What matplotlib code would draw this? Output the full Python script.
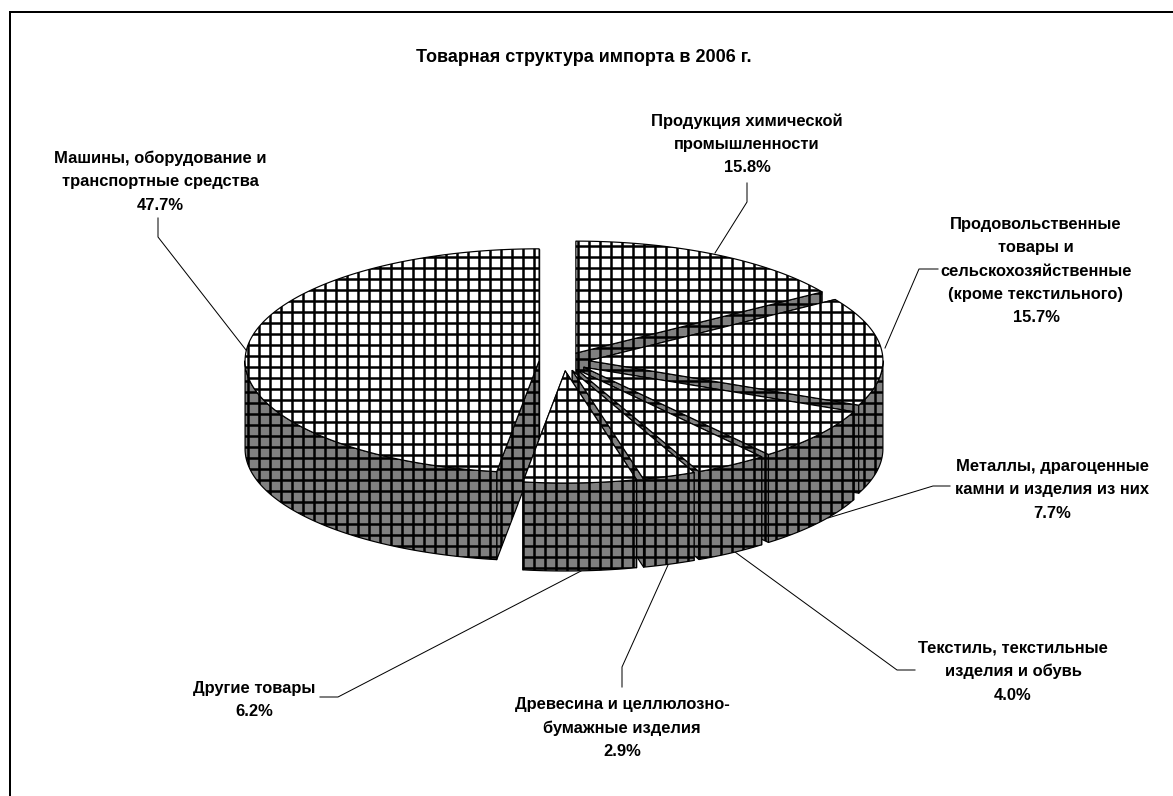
#!/usr/bin/env python3
import numpy as np
import matplotlib
matplotlib.use("Agg")
import matplotlib.pyplot as plt
from matplotlib.patches import Polygon

W, H = 1173, 796
DPI = 66

TITLE = "Товарная структура импорта в 2006 г."

# clockwise from 12 o'clock, starting with the chemical slice
categories = [
    "Продукция химической\nпромышленности",
    "Продовольственные\nтовары и\nсельскохозяйственные\n(кроме текстильного)",
    "Металлы, драгоценные\nкамни и изделия из них",
    "Текстиль, текстильные\nизделия и обувь",
    "Древесина и целлюлозно-\nбумажные изделия",
    "Другие товары",
    "Машины, оборудование и\nтранспортные средства",
]
shares = [15.8, 15.7, 7.7, 4.0, 2.9, 6.2, 47.7]

plt.rcParams.update({
    "font.family": ["Liberation Sans", "DejaVu Sans"],
    "font.weight": "bold",
})


def px(size):
    return size * 72 / DPI


# pie geometry in image pixels
CX, CY = 564.0, 361.5
RX, RY = 294.0, 112.0
DEPTH = 88.0
EXPLODE = 25.0

# pattern grid: period and phase of the bitmap fill
GRID = 11
GRID_LW = 2.5
TOP_PHASE = (6.0, 4.0)
WALL_PHASE = (5.5, 6.5)

# label centre x, y of first line (px), one per category
label_pos = [
    (747, 121),
    (1036, 224),
    (1052, 466),
    (1013, 648),
    (622, 705),
    (254, 688),
    (160, 158),
]
# leader polylines, label end first
leaders = [
    [(747, 183), (747, 202), (715, 253)],
    [(938, 269), (919, 269), (885, 348)],
    [(950, 486), (933, 486), (828, 518)],
    [(915, 670), (897, 670), (735, 552)],
    [(622, 687), (622, 667), (668, 565)],
    [(320, 697), (338, 697), (581, 571)],
    [(158, 218), (158, 237), (246, 350)],
]


def ell(ax0, ay0, t):
    return ax0 + RX * np.sin(t), ay0 - RY * np.cos(t)


def face(ax, pts, color, phase, z):
    patch = Polygon(pts, facecolor=color, edgecolor="none", zorder=z)
    ax.add_patch(patch)
    xs = np.arange(phase[0], W, GRID)
    ys = np.arange(phase[1], H, GRID)
    for lines in (ax.vlines(xs, 0, H, colors="black", lw=px(GRID_LW), zorder=z),
                  ax.hlines(ys, 0, W, colors="black", lw=px(GRID_LW), zorder=z)):
        lines.set_clip_path(patch)
    ax.add_patch(Polygon(pts, facecolor="none", edgecolor="black", lw=px(1.2),
                         joinstyle="round", zorder=z))


def draw_slice(ax, t0, t1, z):
    tm = (t0 + t1) / 2
    ax0 = CX + EXPLODE * np.sin(tm)
    ay0 = CY - EXPLODE * RY / RX * np.cos(tm)

    # radial walls
    for t in (t0, t1):
        x, y = ell(ax0, ay0, t)
        face(ax, [(ax0, ay0), (x, y), (x, y + DEPTH), (ax0, ay0 + DEPTH)],
             "#808080", WALL_PHASE, z)
    # outer wall, only the part facing the viewer
    lo, hi = max(t0, np.pi / 2), min(t1, 3 * np.pi / 2)
    if hi > lo:
        t = np.linspace(lo, hi, 120)
        x, y = ell(ax0, ay0, t)
        face(ax, np.r_[np.c_[x, y], np.c_[x, y + DEPTH][::-1]], "#808080", WALL_PHASE, z)
    # top face
    t = np.linspace(t0, t1, 300)
    x, y = ell(ax0, ay0, t)
    face(ax, np.r_[[(ax0, ay0)], np.c_[x, y]], "white", TOP_PHASE, z)


fig = plt.figure(figsize=(W / DPI, H / DPI), dpi=DPI)
ax = fig.add_axes([0, 0, 1, 1])
ax.set_xlim(0, W)
ax.set_ylim(H, 0)
ax.axis("off")

# frame runs off the right and bottom of the picture
ax.plot([10, 10, W + 5], [H + 5, 12, 12], color="black", lw=px(2),
        solid_joinstyle="miter", zorder=1)

ax.text(583.5, 58, TITLE, ha="center", va="center", fontsize=px(18), zorder=100)

# slice angles from the shares
edges = np.r_[0, np.cumsum(shares)] / np.sum(shares) * 2 * np.pi
# back to front: big slice first, then clockwise
order = [6, 0, 1, 2, 3, 4, 5]
for z, i in enumerate(order):
    draw_slice(ax, edges[i], edges[i + 1], 3 + z)

LINE_H = 23.5
for name, val, (x, y), pts in zip(categories, shares, label_pos, leaders):
    lines = name.split("\n") + [f"{val:.1f}%"]
    for k, line in enumerate(lines):
        ax.text(x, y + k * LINE_H, line, ha="center", va="center", fontsize=px(16.5), zorder=100)
    xs, ys = zip(*pts)
    ax.plot(xs, ys, color="black", lw=px(1), zorder=2)

fig.savefig("out.png", dpi=DPI)
